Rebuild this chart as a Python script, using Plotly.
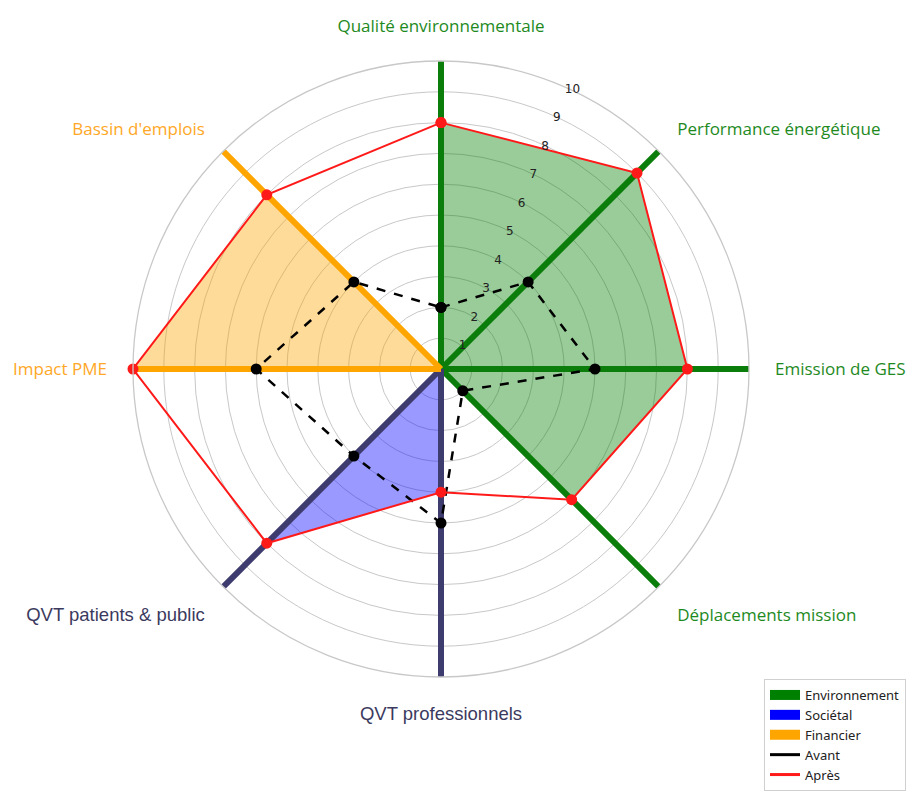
import plotly.graph_objects as go

categories = ["Qualité environnementale", "Performance énergétique", "Emission de GES",
              "Déplacements mission", "QVT professionnels", "QVT patients & public",
              "Impact PME", "Bassin d'emplois"]
groups = ["Environnement", "Environnement", "Environnement", "Environnement",
          "Sociétal", "Sociétal", "Financier", "Financier"]
avant = [2, 4, 5, 1, 5, 4, 6, 4]
apres = [8, 9, 8, 6, 4, 8, 10, 8]
radial_ticks = [1, 2, 3, 4, 5, 6, 7, 8, 9, 10]

group_line = {"Environnement": "#0a7d0a", "Sociétal": "#3e3c6e", "Financier": "#ffa500"}
group_fill = {"Environnement": "rgba(0,128,0,0.4)", "Sociétal": "rgba(0,0,255,0.4)",
              "Financier": "rgba(255,165,0,0.4)"}
group_legend = {"Environnement": "#008000", "Sociétal": "#0000ff", "Financier": "#ffa500"}
label_color = {"Environnement": "#1e8a1e", "Sociétal": "#3b3a5e", "Financier": "#ffa726"}
label_font = {"Environnement": "Open Sans", "Sociétal": "Liberation Sans", "Financier": "Open Sans"}
label_size = {"Environnement": 17, "Sociétal": 18.5, "Financier": 17}

fig = go.Figure()

# group fills (center -> Après values of the group's axes -> center)
for g in ["Environnement", "Financier", "Sociétal"]:
    idx = [i for i, gg in enumerate(groups) if gg == g]
    th = [categories[idx[0]]] + [categories[i] for i in idx] + [categories[idx[-1]]]
    rr = [0] + [apres[i] for i in idx] + [0]
    fig.add_trace(go.Scatterpolar(r=rr, theta=th, mode="lines", fill="toself",
                                  fillcolor=group_fill[g], line=dict(width=0),
                                  showlegend=False, hoverinfo="skip"))

# coloured axis spokes
for c, g in zip(categories, groups):
    fig.add_trace(go.Scatterpolar(r=[0, radial_ticks[-1]], theta=[c, c], mode="lines",
                                  line=dict(color=group_line[g], width=6),
                                  showlegend=False, hoverinfo="skip"))

# Avant / Après
fig.add_trace(go.Scatterpolar(r=avant + avant[:1], theta=categories + categories[:1],
                              mode="lines+markers", line=dict(color="black", width=2.5, dash="dash"),
                              marker=dict(color="black", size=11), showlegend=False))
fig.add_trace(go.Scatterpolar(r=apres + apres[:1], theta=categories + categories[:1],
                              mode="lines+markers", line=dict(color="#ff1a1a", width=2),
                              marker=dict(color="#ff1a1a", size=11), showlegend=False))

# legend entries
for g in ["Environnement", "Sociétal", "Financier"]:
    fig.add_trace(go.Scatterpolar(r=[None], theta=[None], mode="lines",
                                  line=dict(width=11, color=group_legend[g]), name=g))
fig.add_trace(go.Scatterpolar(r=[None], theta=[None], mode="lines",
                              line=dict(color="black", width=3), name="Avant"))
fig.add_trace(go.Scatterpolar(r=[None], theta=[None], mode="lines",
                              line=dict(color="#ff1a1a", width=3), name="Après"))

ticktext = [f'<span style="color:{label_color[g]};font-family:{label_font[g]};'
            f'font-size:{label_size[g]}px">{c}</span>'
            for c, g in zip(categories, groups)]

# page has an 8px body margin; figure sized so it fits the window without scrolling
W, H = 898, 783
cx, cy, R = 433, 361, 308
fig.update_layout(
    width=W, height=H,
    margin=dict(l=0, r=0, t=0, b=0),
    paper_bgcolor="white",
    font=dict(family="Noto Sans", size=15, color="#333"),
    polar=dict(
        domain=dict(x=[(cx - R) / W, (cx + R) / W], y=[(H - cy - R) / H, (H - cy + R) / H]),
        bgcolor="white",
        angularaxis=dict(rotation=90, direction="clockwise", categoryorder="array",
                         categoryarray=categories, tickmode="array", tickvals=categories,
                         ticktext=ticktext, ticks="outside", ticklen=22,
                         tickcolor="rgba(0,0,0,0)", showgrid=False, showline=True,
                         linecolor="#c8c8c8", linewidth=1.3,
                         tickfont=dict(size=17)),
        radialaxis=dict(range=[0, 10], tickmode="array", tickvals=radial_ticks,
                        ticktext=[str(t) for t in radial_ticks], angle=67.5,
                        side="clockwise", tickangle=67.5,
                        showline=False, ticks="", gridcolor="#c8c8c8", gridwidth=1.3,
                        tickfont=dict(family="DejaVu Sans", size=12, color="#222")),
    ),
    legend=dict(x=1, xanchor="right", y=0, yanchor="bottom", bgcolor="white",
                bordercolor="#d0d0d0", borderwidth=1,
                font=dict(family="Noto Sans", size=13, color="#222"),
                tracegroupgap=0, itemwidth=30),
)

fig.write_html("out.html")
